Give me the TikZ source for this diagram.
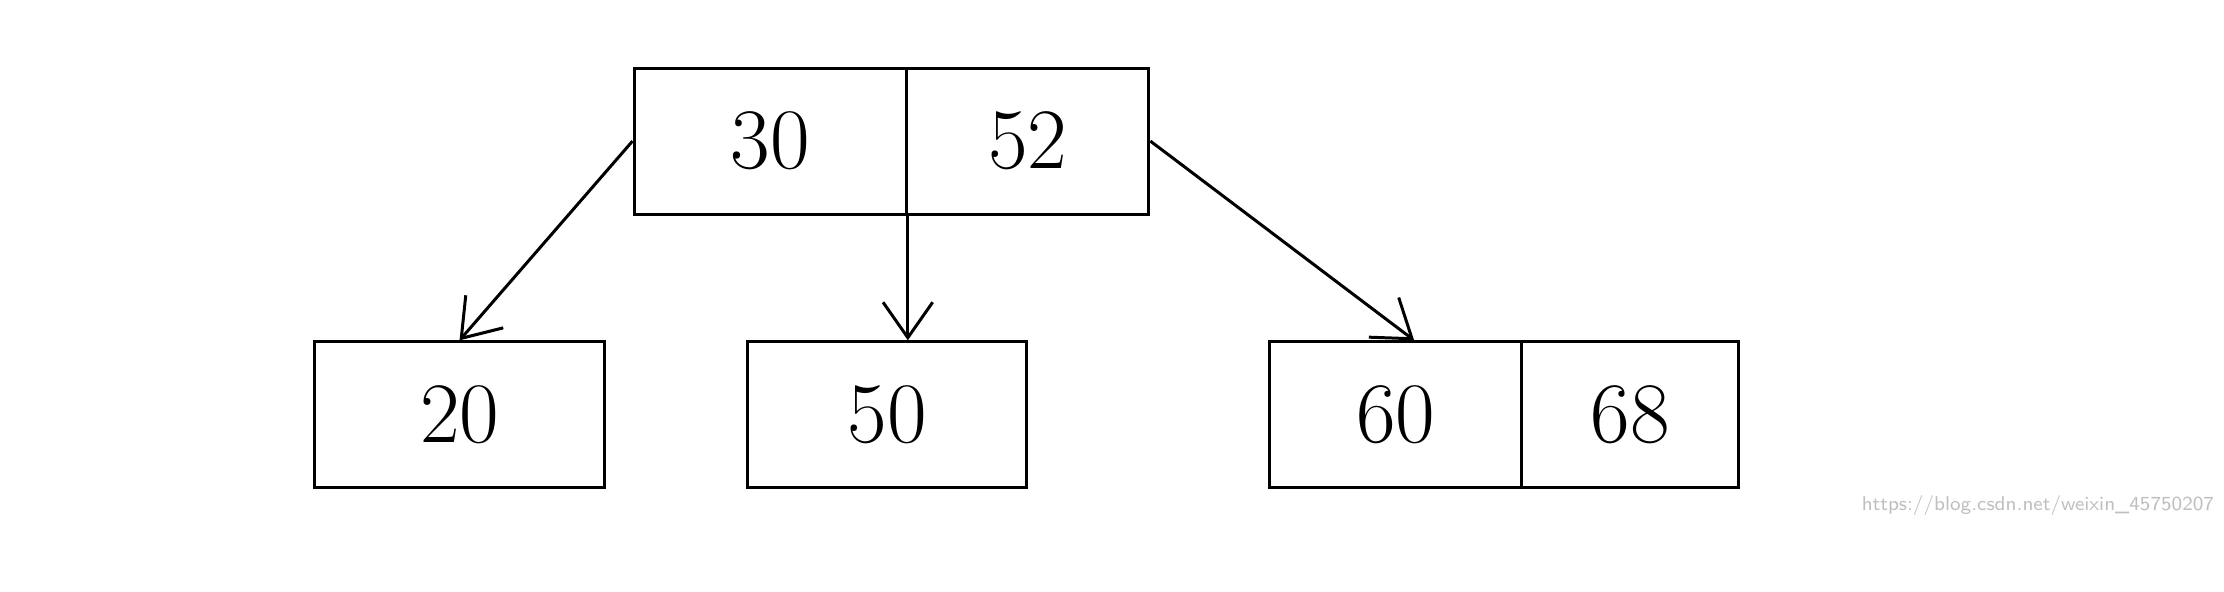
\documentclass[tikz,border=0pt]{standalone}
\usetikzlibrary{arrows.meta}
\begin{document}
\begin{tikzpicture}
  [line width=0.6pt,every node/.style={rectangle,draw,inner sep=0pt,minimum height=1.03cm,font=\LARGE}]
\useasboundingbox (0,0) rectangle (15.68,4.17);
\node (a)[minimum width=1.92cm] at (5.43,3.175) {30};
  \node (b)[minimum width=1.71cm] at (7.245,3.175) {52};
  \node (l)[minimum width=2.04cm] at (3.24,1.245) {20};
  \node (m)[minimum width=1.97cm] at (6.255,1.245) {50};
  \node (rl)[minimum width=1.78cm] at (9.84,1.245) {60};
  \node (rr)[minimum width=1.53cm] at (11.495,1.245) {68};

 \path[-{Straight Barb[length=2.5mm,width=3.5mm]}]
   (a.west) edge (l.north)
   (a.south east) edge (a.south east |- m.north)
   (b.east) edge ([xshift=1.3mm]rl.north);

 \node[draw=none,anchor=south east,font=\sffamily\fontsize{4}{5}\selectfont,text=black!25] (wm) at (15.62,0.08) {https://blog.csdn.net/weixin\_45750207};
\end{tikzpicture}
\end{document}
